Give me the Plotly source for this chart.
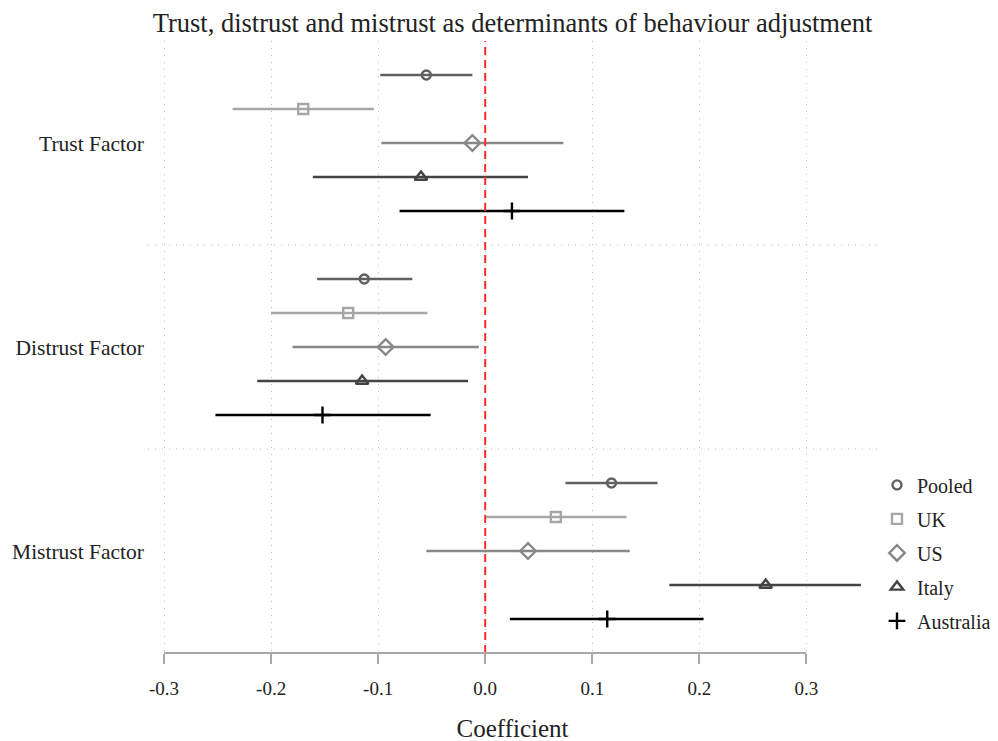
import plotly.graph_objects as go

groups = ["Trust Factor", "Distrust Factor", "Mistrust Factor"]
group_pos = [3, 2, 1]
series = ["Pooled", "UK", "US", "Italy", "Australia"]
offsets = [1/3, 1/6, 0, -1/6, -1/3]

est = {
    "Pooled":    [-0.055, -0.113, 0.118],
    "UK":        [-0.170, -0.128, 0.066],
    "US":        [-0.012, -0.093, 0.040],
    "Italy":     [-0.060, -0.115, 0.262],
    "Australia": [0.025, -0.152, 0.114],
}
lower = {
    "Pooled":    [-0.098, -0.157, 0.075],
    "UK":        [-0.236, -0.200, 0.001],
    "US":        [-0.097, -0.180, -0.055],
    "Italy":     [-0.161, -0.213, 0.172],
    "Australia": [-0.080, -0.252, 0.023],
}
upper = {
    "Pooled":    [-0.012, -0.068, 0.161],
    "UK":        [-0.104, -0.054, 0.132],
    "US":        [0.073, -0.006, 0.135],
    "Italy":     [0.040, -0.016, 0.351],
    "Australia": [0.130, -0.051, 0.204],
}

colors = {"Pooled": "#606060", "UK": "#A6A6A6", "US": "#888888",
          "Italy": "#444444", "Australia": "#000000"}
symbols = {"Pooled": "circle-open", "UK": "square-open", "US": "diamond-open",
           "Italy": "triangle-up-open", "Australia": "cross-thin-open"}
sizes = {"Pooled": 9, "UK": 10, "US": 12, "Italy": 11, "Australia": 12}

FONT = "Liberation Serif"
GRID = "#BDBDBD"

fig = go.Figure()
for s, off in zip(series, offsets):
    ys = [g + off for g in group_pos]
    fig.add_trace(go.Scatter(
        x=est[s], y=ys, mode="markers", name=s, legendgroup=s,
        marker=dict(symbol=symbols[s], size=sizes[s], color=colors[s],
                    line=dict(width=2.4, color=colors[s])),
        error_x=dict(type="data", symmetric=False,
                     array=[u - e for u, e in zip(upper[s], est[s])],
                     arrayminus=[e - l for e, l in zip(est[s], lower[s])],
                     color=colors[s], thickness=2.4, width=0),
    ))

shapes = []
for yv in [1.5, 2.5]:
    shapes.append(dict(type="line", xref="paper", x0=0, x1=1, yref="y", y0=yv, y1=yv,
                       line=dict(color=GRID, width=1, dash="1px,6px"), layer="below"))
shapes.append(dict(type="line", xref="x", x0=0, x1=0, yref="paper", y0=0, y1=1,
                   line=dict(color="#FF2A2A", width=2, dash="8px,5px"), layer="above"))
shapes.append(dict(type="line", xref="x", x0=-0.3, x1=0.3, yref="paper", y0=0, y1=0,
                   line=dict(color="#A8A8A8", width=2)))

fig.update_layout(
    width=998, height=741,
    paper_bgcolor="white", plot_bgcolor="white",
    margin=dict(l=140, r=128, t=33, b=96),
    font=dict(family=FONT, size=19, color="#222222"),
    title=dict(text="Trust, distrust and mistrust as determinants of behaviour adjustment",
               x=0.5, xref="paper", xanchor="center", y=1 - 15/741, yref="container",
               yanchor="middle", font=dict(family=FONT, size=26.5, color="#222222")),
    xaxis=dict(range=[-0.315, 0.366], tickvals=[-0.3, -0.2, -0.1, 0.0, 0.1, 0.2, 0.3],
               ticktext=["-0.3", "-0.2", "-0.1", "0.0", "0.1", "0.2", "0.3"],
               showgrid=True, gridcolor=GRID, gridwidth=1, griddash="1px,6px",
               zeroline=False, showline=False, ticks="outside", ticklen=10,
               tickwidth=2, tickcolor="#A8A8A8", ticklabelstandoff=8,
               tickfont=dict(size=19), automargin=False,
               title=dict(text="Coefficient", font=dict(size=25), standoff=21)),
    yaxis=dict(range=[0.5, 3.5], tickvals=group_pos, ticktext=groups,
               showgrid=False, zeroline=False, showline=False, ticks="",
               tickfont=dict(size=21.5), ticklabelstandoff=3, automargin=False),
    legend=dict(xref="container", x=869/998, xanchor="left", yref="paper", y=0.3065,
                yanchor="top", tracegroupgap=5, font=dict(size=20),
                bgcolor="rgba(0,0,0,0)"),
    shapes=shapes,
)

fig.write_html("out.html")
